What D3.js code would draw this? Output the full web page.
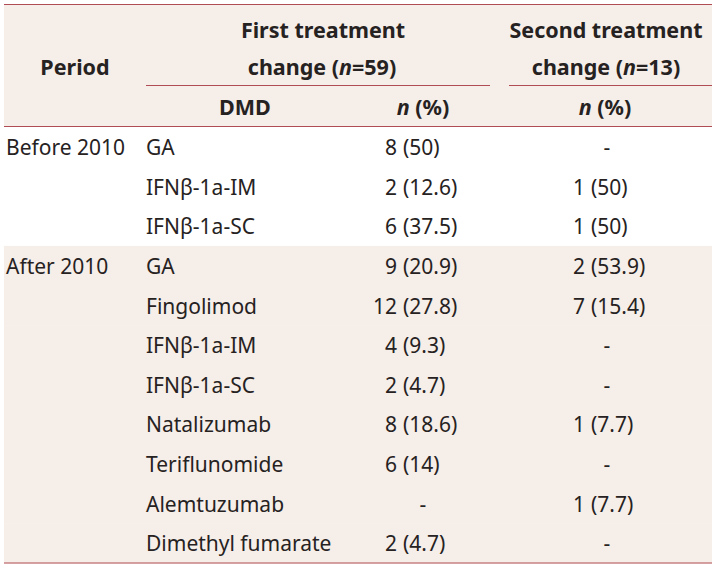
<!DOCTYPE html>
<html>
<head>
<meta charset="utf-8">
<script src="https://cdn.jsdelivr.net/npm/d3@7"></script>
<style>
  html, body { margin: 0; padding: 0; background: #ffffff; }
  svg { display: block; }
  text { font-family: "Noto Sans", "DejaVu Sans", sans-serif; fill: #262222; }
</style>
</head>
<body>
<svg id="chart" width="717" height="569"></svg>
<script>
// ---- data ----
const periods   = ["Before 2010", "", "", "After 2010", "", "", "", "", "", "", ""];
const periodGroup = ["before", "before", "before", "after", "after", "after", "after", "after", "after", "after", "after"];
const dmds      = ["GA", "IFNβ-1a-IM", "IFNβ-1a-SC", "GA", "Fingolimod", "IFNβ-1a-IM", "IFNβ-1a-SC", "Natalizumab", "Teriflunomide", "Alemtuzumab", "Dimethyl fumarate"];
const firstN    = [8, 2, 6, 9, 12, 4, 2, 8, 6, null, 2];
const firstPct  = ["50", "12.6", "37.5", "20.9", "27.8", "9.3", "4.7", "18.6", "14", null, "4.7"];
const secondN   = [null, 1, 1, 2, 7, null, null, 1, null, 1, null];
const secondPct = [null, "50", "50", "53.9", "15.4", null, null, "7.7", null, "7.7", null];
const headerTop = ["Period", "First treatment", "change", "Second treatment", "change"];
const firstTotal = 59, secondTotal = 13;

// ---- layout ----
const svg = d3.select("#chart");
const xLeft = 4, xRight = 712, yTop = 4, headBottom = 127, yBottom = 563;
const pink = "#f6eee9", lineColor = "#b04c53";
const fs = 21;

const y = d3.scaleBand().domain(d3.range(dmds.length)).range([headBottom, yBottom]).padding(0);

// header background
svg.append("rect").attr("x", xLeft).attr("y", yTop).attr("width", xRight - xLeft).attr("height", headBottom - yTop).attr("fill", pink);
// row backgrounds
svg.selectAll("rect.row").data(d3.range(dmds.length)).join("rect")
  .attr("class", "row")
  .attr("x", xLeft).attr("y", i => y(i)).attr("width", xRight - xLeft).attr("height", y.bandwidth() + 0.5)
  .attr("fill", i => periodGroup[i] === "after" ? pink : "#ffffff");

// lines
const hline = (x1, x2, yy) => svg.append("line").attr("x1", x1).attr("x2", x2).attr("y1", yy).attr("y2", yy)
  .attr("stroke", lineColor).attr("stroke-width", 1.2);
hline(xLeft, xRight, yTop + 0.5);
hline(146, 490, 85.5);
hline(509, xRight, 85.5);
hline(xLeft, xRight, headBottom - 0.5);
hline(xLeft, xRight, yBottom);

// header text
const hdr = svg.append("g").attr("font-weight", "bold").attr("font-size", 21.5);
hdr.append("text").attr("x", 75).attr("y", 75).attr("text-anchor", "middle").text(headerTop[0]);
hdr.append("text").attr("x", 323).attr("y", 38).attr("text-anchor", "middle").text(headerTop[1]);
const c1 = hdr.append("text").attr("x", 322).attr("y", 75).attr("text-anchor", "middle");
c1.append("tspan").text(headerTop[2] + " (");
c1.append("tspan").attr("font-style", "italic").text("n");
c1.append("tspan").text("=" + firstTotal + ")");
hdr.append("text").attr("x", 606).attr("y", 38).attr("text-anchor", "middle").text(headerTop[3]);
const c2 = hdr.append("text").attr("x", 606).attr("y", 75).attr("text-anchor", "middle");
c2.append("tspan").text(headerTop[4] + " (");
c2.append("tspan").attr("font-style", "italic").text("n");
c2.append("tspan").text("=" + secondTotal + ")");
hdr.append("text").attr("x", 245).attr("y", 115).attr("text-anchor", "middle").text("DMD");
[423, 605].forEach(cx => {
  const t = hdr.append("text").attr("x", cx).attr("y", 115).attr("text-anchor", "middle");
  t.append("tspan").attr("font-style", "italic").text("n");
  t.append("tspan").text(" (%)");
});

// body
const base = i => y(i) + 28;
const body = svg.append("g").attr("font-size", fs);
body.selectAll("text.period").data(d3.range(dmds.length)).join("text")
  .attr("class", "period").attr("x", 6).attr("y", base).text(i => periods[i]);
body.selectAll("text.dmd").data(d3.range(dmds.length)).join("text")
  .attr("class", "dmd").attr("x", 146).attr("y", base).text(i => dmds[i]);

function valueCol(cls, nArr, pArr, numRight, dashX) {
  const idx = d3.range(dmds.length);
  body.selectAll("text." + cls + "n").data(idx).join("text")
    .attr("class", cls + "n")
    .attr("x", i => nArr[i] == null ? dashX : numRight)
    .attr("y", base)
    .attr("text-anchor", i => nArr[i] == null ? "middle" : "end")
    .text(i => nArr[i] == null ? "-" : nArr[i]);
  body.selectAll("text." + cls + "p").data(idx.filter(i => nArr[i] != null)).join("text")
    .attr("class", cls + "p")
    .attr("x", numRight + 6).attr("y", base)
    .text(i => "(" + pArr[i] + ")");
}
valueCol("f", firstN, firstPct, 397, 423);
valueCol("s", secondN, secondPct, 585, 607);
</script>
</body>
</html>
